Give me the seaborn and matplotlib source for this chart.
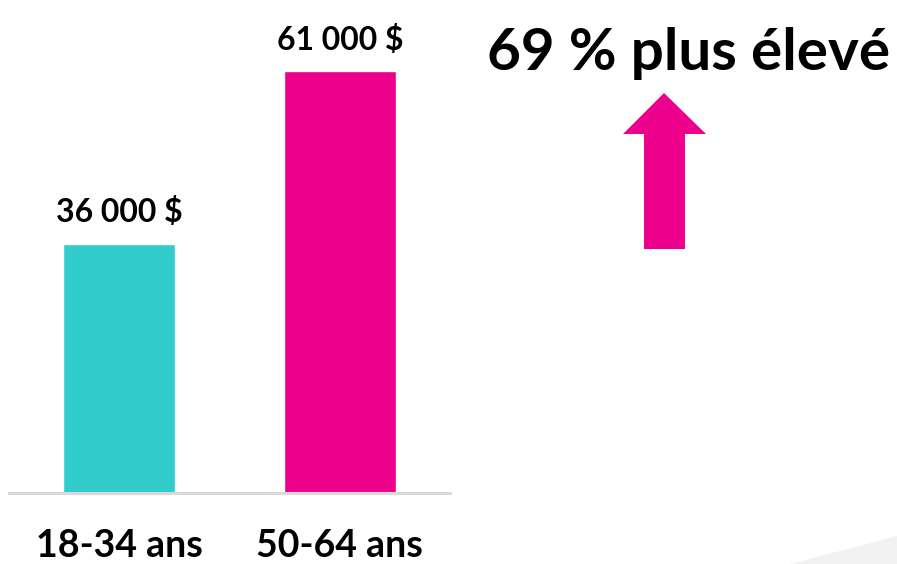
import matplotlib
matplotlib.use("Agg")
import matplotlib.pyplot as plt
import seaborn as sns
import pandas as pd
from matplotlib.patches import Polygon

categories = ["18-34 ans", "50-64 ans"]
values = [36000, 61000]
value_labels = ["36 000 $", "61 000 $"]
headline = "69 % plus élevé"
colors = ["#33CCCC", "#EC008C"]

sns.set_theme(style="white")
plt.rcParams["font.family"] = ["Lato", "DejaVu Sans"]

W, H = 897, 564
fig = plt.figure(figsize=(W / 100, H / 100), dpi=100)

# background decoration (light gray wedge bottom-right)
fig.patches.append(Polygon([[790 / W, 0], [1, 0], [1, (H - 536) / H]],
                           closed=True, transform=fig.transFigure,
                           facecolor="#F2F2F2", edgecolor="none", zorder=0))

ax = fig.add_axes([9 / W, (H - 493) / H, (450 - 9) / W, 484 / H])
ax.patch.set_alpha(0)
df = pd.DataFrame({"cat": categories, "val": values})
sns.barplot(data=df, x="cat", y="val", hue="cat", palette=colors,
            width=0.507, legend=False, ax=ax, saturation=1)
ax.set_xlim(-0.5, 1.5)
ax.set_ylim(0, 70000)
for s in ["top", "right", "left"]:
    ax.spines[s].set_visible(False)
ax.spines["bottom"].set_color("#D9D9D9")
ax.spines["bottom"].set_linewidth(2.2)
ax.set_yticks([])
ax.set_xlabel("")
ax.set_ylabel("")
ax.tick_params(axis="x", length=0, pad=26)
for t in ax.get_xticklabels():
    t.set_fontsize(27)
    t.set_fontweight("bold")
    t.set_color("black")

for cont, lab in zip(ax.containers, value_labels):
    ax.bar_label(cont, labels=[lab], padding=12, fontsize=23,
                 fontweight="bold", color="black")

fig.text(487 / W, (H - 70) / H, headline, fontsize=42, fontweight="bold",
         color="black", ha="left", va="baseline")

# up arrow
arrow = [[644, 249], [685, 249], [685, 134], [706, 134], [664, 93],
         [623, 134], [644, 134]]
fig.patches.append(Polygon([[x / W, (H - y) / H] for x, y in arrow],
                           closed=True, transform=fig.transFigure,
                           facecolor="#EC008C", edgecolor="none"))

fig.savefig("out.png", dpi=100)
